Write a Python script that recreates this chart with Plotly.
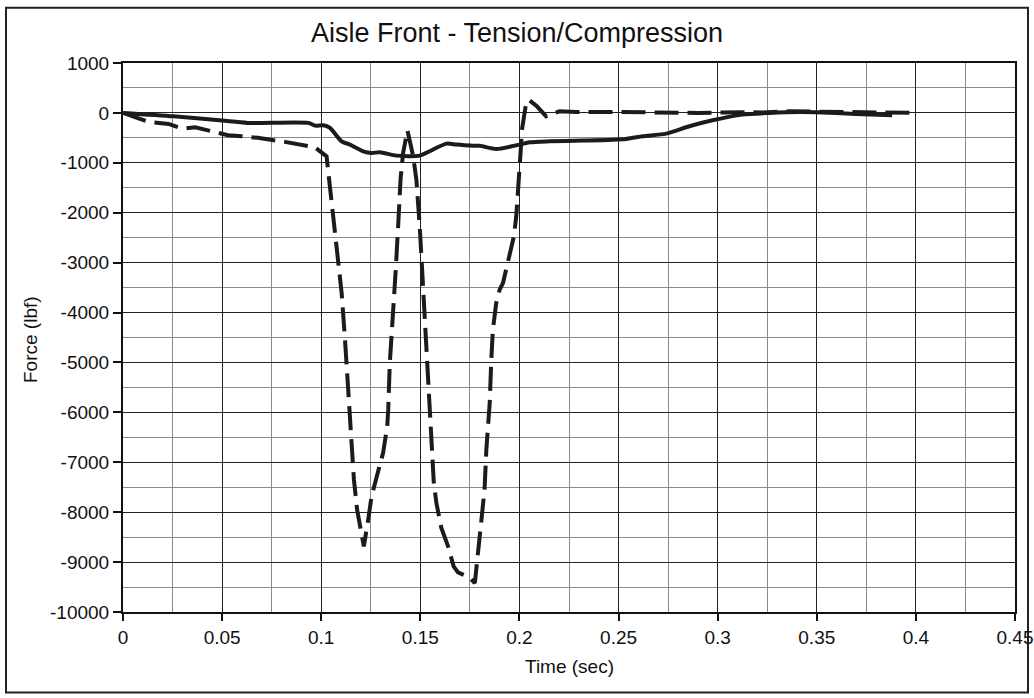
import plotly.graph_objects as go

# Solid series (time s, force lbf)
solid_t = [0, 0.0255, 0.05, 0.063, 0.0935, 0.097, 0.101, 0.1044, 0.1103, 0.1145, 0.1212,
           0.1254, 0.1296, 0.138, 0.1497, 0.1547, 0.1632, 0.1682, 0.1749, 0.18, 0.1883,
           0.2001, 0.2051, 0.2152, 0.232, 0.2538, 0.2622, 0.274, 0.2857, 0.2974, 0.3125,
           0.326, 0.3411, 0.3495, 0.3696, 0.388]
solid_f = [0, -68, -154, -200, -200, -255, -248, -300, -569, -635, -769,
           -802, -789, -856, -856, -769, -615, -635, -655, -660, -722,
           -635, -589, -569, -555, -521, -468, -415, -268, -148, -34,
           0, 20, 15, -20, -48]

# Dashed series (time s, force lbf)
dash_t = [0, 0.0129, 0.023, 0.0297, 0.0364, 0.0465, 0.053, 0.06, 0.068, 0.0817, 0.090,
          0.0968, 0.1027, 0.1052, 0.1078, 0.1103, 0.112, 0.1136, 0.1153, 0.1165, 0.1181,
          0.1195, 0.1215, 0.1237, 0.1254, 0.1287, 0.1312, 0.1333, 0.1338, 0.1346, 0.1363,
          0.1376, 0.1388, 0.140, 0.1413, 0.1435, 0.1464, 0.148, 0.1497, 0.1517, 0.1527,
          0.1539, 0.1556, 0.1568, 0.1581, 0.1606, 0.164, 0.1668, 0.169, 0.1745, 0.1775,
          0.18, 0.1813, 0.1824, 0.1833, 0.1841, 0.185, 0.1858, 0.1866, 0.1883, 0.19,
          0.1917, 0.1942, 0.1959, 0.1972, 0.1984, 0.1992, 0.2001, 0.2006, 0.2014, 0.2034,
          0.2046, 0.2088, 0.2135, 0.2202, 0.2286, 0.2437, 0.27, 0.29, 0.3134, 0.3226,
          0.336, 0.3495, 0.373, 0.3864, 0.4]
dash_f = [0, -180, -220, -315, -288, -381, -448, -468, -500, -580, -648,
          -688, -870, -1737, -2673, -3607, -4543, -5479, -6413, -7349, -7950,
          -8217, -8685, -8150, -7683, -7183, -6814, -6281, -5946, -5010, -4076,
          -3140, -2273, -1337, -802, -350, -870, -1337, -2273, -3675, -4610,
          -5545, -6481, -7415, -7816, -8317, -8685, -9086, -9206, -9300, -9420,
          -8551, -7950, -7549, -6748, -6347, -5812, -4944, -4343, -3808, -3541,
          -3407, -3006, -2740, -2473, -2072, -1537, -1136, -735, -300, 200,
          267, 132, -68, 32, 20, 20, 0, 0, 15, 10,
          32, 25, 0, 0, 0]

x_ticks = [0, 0.05, 0.1, 0.15, 0.2, 0.25, 0.3, 0.35, 0.4, 0.45]
x_tick_text = ["0", "0.05", "0.1", "0.15", "0.2", "0.25", "0.3", "0.35", "0.4", "0.45"]
x_minor = [0.025, 0.075, 0.125, 0.175, 0.225, 0.275, 0.325, 0.375, 0.425]
y_ticks = [1000, 0, -1000, -2000, -3000, -4000, -5000, -6000, -7000, -8000, -9000, -10000]
y_tick_text = ["1000", "0", "-1000", "-2000", "-3000", "-4000", "-5000", "-6000",
               "-7000", "-8000", "-9000", "-10000"]
y_minor = [500, -500, -1500, -2500, -3500, -4500, -5500, -6500, -7500, -8500, -9500]

LINE = "#1c1a1a"
TEXT = "#111111"
FONT = "Liberation Sans, Arial, sans-serif"

fig = go.Figure()
fig.add_trace(go.Scatter(x=solid_t, y=solid_f, mode="lines",
                         line=dict(color=LINE, width=4, shape="spline", smoothing=0.7),
                         showlegend=False))
fig.add_trace(go.Scatter(x=dash_t, y=dash_f, mode="lines",
                         line=dict(color=LINE, width=4, dash="24px,9px"), showlegend=False))

fig.update_layout(
    width=1034, height=698,
    margin=dict(l=123, r=19, t=63, b=86),
    paper_bgcolor="white", plot_bgcolor="white",
    font=dict(family=FONT, color=TEXT, size=19),
    title=dict(text="Aisle Front - Tension/Compression", x=0.5, xref="container",
               y=1 - 33 / 698, yref="container", yanchor="middle", xanchor="center",
               font=dict(size=27, family=FONT, color=TEXT)),
    xaxis=dict(range=[0, 0.45], tickvals=x_ticks, ticktext=x_tick_text,
               showgrid=True, gridcolor="#222", gridwidth=1.3,
               minor=dict(tickvals=x_minor, showgrid=True, gridcolor="#8a8a8a",
                          gridwidth=1.3, ticks=""),
               ticks="outside", ticklen=7, tickwidth=1.6, tickcolor=TEXT,
               showline=True, linecolor=TEXT, linewidth=2, mirror=True,
               zeroline=False, automargin=False,
               tickfont=dict(size=19, color=TEXT)),
    yaxis=dict(range=[-10000, 1000], tickvals=y_ticks, ticktext=y_tick_text,
               showgrid=True, gridcolor="#222", gridwidth=1.3,
               minor=dict(tickvals=y_minor, showgrid=True, gridcolor="#8a8a8a",
                          gridwidth=1.3, ticks=""),
               ticks="outside", ticklen=8, tickwidth=1.6, tickcolor=TEXT,
               showline=True, linecolor=TEXT, linewidth=2, mirror=True,
               zeroline=False, automargin=False,
               tickfont=dict(size=19, color=TEXT)),
)

# axis titles
fig.add_annotation(text="Time (sec)", xref="paper", yref="paper",
                   x=0.5, y=(611.7 - 666) / 548.4, xanchor="center", yanchor="middle",
                   showarrow=False, font=dict(size=19, family=FONT, color=TEXT))
fig.add_annotation(text="Force (lbf)", xref="paper", yref="paper",
                   x=(30 - 123) / 892, y=(611.7 - 340) / 548.4, xanchor="center",
                   yanchor="middle", textangle=-90,
                   showarrow=False, font=dict(size=19, family=FONT, color=TEXT))

# outer chart border
fig.add_shape(type="rect", xref="paper", yref="paper",
              x0=(6 - 123) / 892, x1=(1028 - 123) / 892,
              y0=(611.7 - 692) / 548.4, y1=(611.7 - 8) / 548.4,
              line=dict(color="#222", width=2), layer="below")

fig.write_html("out.html", config={"displayModeBar": False},
               post_script="document.body.style.margin='0';")
